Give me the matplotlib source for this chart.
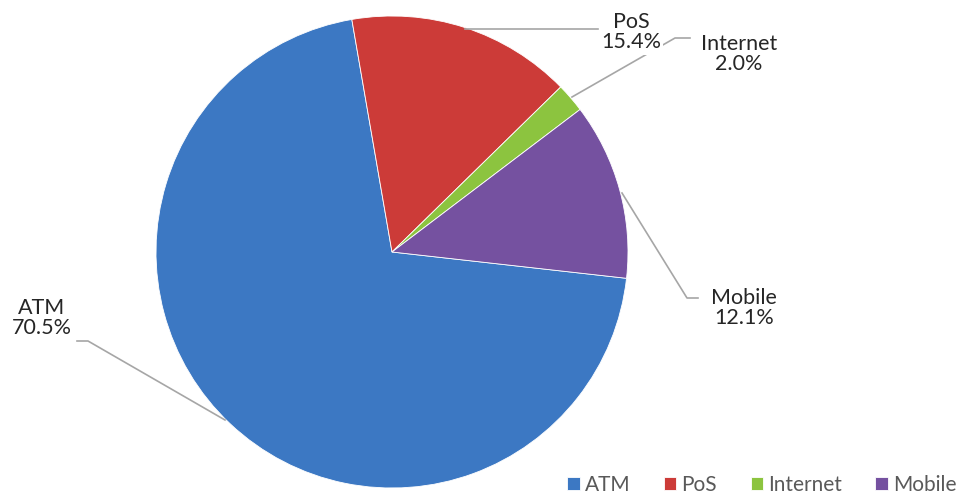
import matplotlib.pyplot as plt

categories = ['ATM', 'PoS', 'Internet', 'Mobile']
shares = [70.5, 15.4, 2.0, 12.1]
colors = ['#3C78C3', '#CC3B38', '#8CC43F', '#7551A0']

# label text centres and leader polylines, in pixels (y measured from top)
label_pos = {
    'ATM': (42, 318),
    'PoS': (631, 32),
    'Internet': (739, 54),
    'Mobile': (744, 308),
}
leaders = {
    'ATM': [(225, 420), (88, 341), (77, 341)],
    'PoS': [(465, 29), (598, 29)],
    'Internet': [(572, 97), (675, 38), (690, 38)],
    'Mobile': [(622, 193), (687, 298), (698, 298)],
}

W, H = 970, 500


def Y(y):
    return H - y


fig = plt.figure(figsize=(9.7, 5), dpi=100)
ax = fig.add_axes([0, 0, 1, 1])

wedges, _ = ax.pie(shares, colors=colors, startangle=-6.4, counterclock=False,
                   center=(392, Y(252)), radius=236,
                   wedgeprops=dict(edgecolor='#ffffff', linewidth=0.6))

for name in categories:
    pts = leaders[name]
    ax.plot([p[0] for p in pts], [Y(p[1]) for p in pts],
            color='#A6A6A6', linewidth=1.2, zorder=1)

for name, val in zip(categories, shares):
    x, y = label_pos[name]
    ax.text(x, Y(y), f'{name}\n{val:.1f}%', ha='center', va='center',
            fontsize=15.5, family='Lato', color='#262626', linespacing=1.05,
            zorder=5,
            bbox=dict(facecolor='white', edgecolor='none', pad=1.5))

ax.legend(wedges, categories, ncol=4, frameon=False, loc='center right',
          bbox_to_anchor=(965 / W, Y(485) / H), fontsize=15,
          prop=dict(family='Lato', size=15),
          handlelength=0.6, handleheight=0.6, handletextpad=0.25,
          columnspacing=1.6, borderaxespad=0, labelcolor='#595959')

ax.set_xlim(0, W)
ax.set_ylim(0, H)
ax.set_aspect('equal')
ax.axis('off')

fig.savefig('out.png', dpi=100)
